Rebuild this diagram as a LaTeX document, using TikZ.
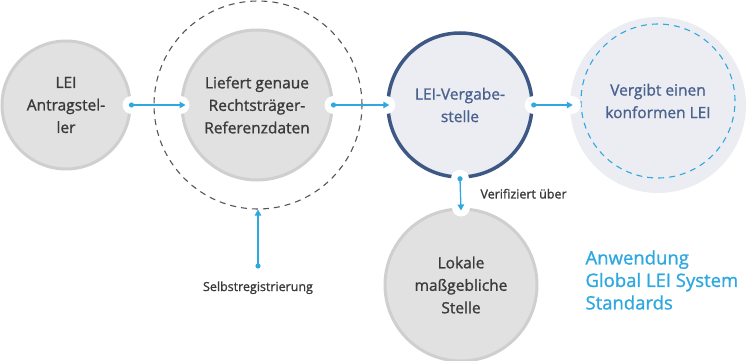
\documentclass[tikz,border=0pt]{standalone}
\usepackage{fontspec}
\setmainfont{Open Sans}[RawFeature={embolden=1.2}]
\usetikzlibrary{arrows.meta, positioning, calc}
\definecolor{mygrey}{RGB}{225,225,225}
\definecolor{myrim}{RGB}{207,207,207}
\definecolor{mytext}{RGB}{58,58,58}
\definecolor{mynavy}{RGB}{62,88,134}
\definecolor{mynavytxt}{RGB}{74,98,142}
\definecolor{mypale}{RGB}{236,237,243}
\definecolor{mysky}{RGB}{47,168,225}
\definecolor{mydash}{RGB}{85,85,85}
\tikzset{
  greycirc/.style={circle, draw=myrim, fill=mygrey, line width=3pt,
    align=center, text=mytext, font=\fontsize{15.5}{22.5}\selectfont},
  navycirc/.style={circle, draw=mynavy, fill=mypale, line width=3.5pt,
    align=center, text=mynavytxt, font=\fontsize{15.5}{22.5}\selectfont},
  palecirc/.style={circle, fill=mypale},
  dashring/.style={circle, draw=mydash, line width=1.1pt,
    dash pattern=on 6pt off 5pt},
  skyring/.style={circle, draw=mysky, line width=1.1pt,
    dash pattern=on 6pt off 5pt, align=center, text=mynavytxt,
    font=\fontsize{15.5}{22.5}\selectfont},
  flow/.style={-{Triangle[length=6pt,width=6.5pt]}, draw=mysky, line width=1.3pt},
  halo/.style={fill=white},
  smalllbl/.style={text=mytext, font=\fontsize{12.5}{15}\selectfont},
  biglbl/.style={text=mysky, align=left, font=\fontsize{18.5}{22.5}\selectfont}
}
\begin{document}
\begin{tikzpicture}[x=1pt, y=-1pt]
  \useasboundingbox (0,0) rectangle (750,361);
  % circles
  \node[greycirc, minimum size=128pt] (antrag) at (66,105) {LEI\\Antragstel-\\ler};
  \node[dashring, minimum size=208pt] (ring) at (258,105) {};
  \node[greycirc, minimum size=150pt] (liefert) at (257,105) {Liefert genaue\\Rechtsträger-\\Referenzdaten};
  \node[navycirc, minimum size=144pt] (vergabe) at (460,105) {LEI-Vergabe-\\stelle};
  \node[palecirc, minimum size=176pt] (vergibt) at (658,105) {};
  \node[skyring, minimum size=154pt] (konform) at (658,101) {Vergibt einen\\konformen LEI};
  \node[greycirc, minimum size=152pt] (lokal) at (461,285) {Lokale\\maßgebliche\\Stelle};
  % white notches
  \foreach \p in {antrag.east, liefert.west, liefert.east, vergabe.west,
                  vergabe.east, vergabe.south, lokal.north}
    \fill[halo] (\p) circle (9pt);
  \fill[halo] ($(vergibt.west)+(2,0)$) circle (9pt);
  % connectors
  \draw[flow] (antrag.east) -- ($(liefert.west)+(5,0)$);
  \draw[flow] (liefert.east) -- ($(vergabe.west)+(3,0)$);
  \draw[flow] (vergabe.east) -- ($(vergibt.west)+(3,0)$);
  \draw[flow] (vergabe.south) -- ($(lokal.north)+(0,3)$);
  \coordinate (selbst) at (258,266);
  \draw[flow] (selbst) -- (ring.south);
  \foreach \p in {antrag.east, liefert.east, vergabe.east, vergabe.south, selbst}
    \fill[mysky] (\p) circle (2.6pt);
  % labels
  \node[smalllbl, anchor=west] (verif) at ($(vergabe.south)+(17,15)$) {Verifiziert über};
  \node[smalllbl, below=12pt of selbst] (selbstlbl) {Selbstregistrierung};
  \node[biglbl, anchor=west] (gleis) at (582,280) {Anwendung\\Global LEI System\\Standards};
\end{tikzpicture}
\end{document}
